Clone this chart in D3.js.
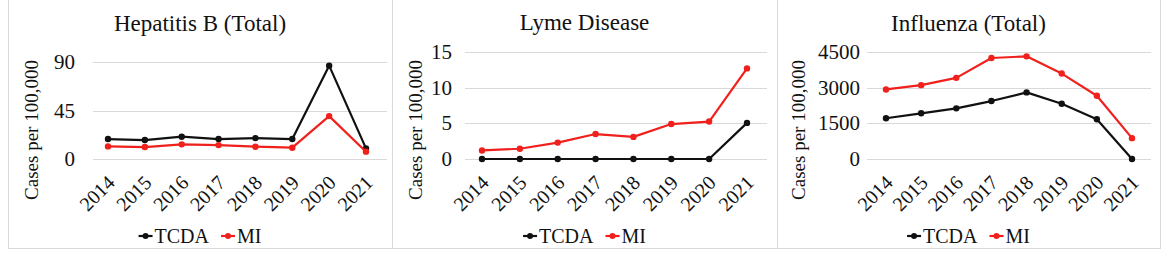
<!DOCTYPE html>
<html><head><meta charset="utf-8">
<script src="https://cdn.jsdelivr.net/npm/d3@7/dist/d3.min.js"></script>
<style>
@font-face { font-family: "ChartSerif"; src: local("Liberation Serif"), local("LiberationSerif"), local("Liberation Serif Regular"), local("LiberationSerif-Regular"); }
</style>
</head>
<body style="margin:0">
<svg id="c" width="1170" height="258"></svg>
<script>
const years = ["2014","2015","2016","2017","2018","2019","2020","2021"];
const seriesNames = ["TCDA","MI"];
const titles = ["Hepatitis B (Total)","Lyme Disease","Influenza (Total)"];
const yTicks1 = [0,45,90];
const yTicks2 = [0,5,10,15];
const yTicks3 = [0,1500,3000,4500];
const hepTCDA = [18.5,17.6,20.7,18.5,19.4,18.5,86.6,9.9];
const hepMI   = [11.7,11.1,13.6,12.9,11.4,10.5,39.8,6.8];
const lymeTCDA = [0,0,0,0,0,0,0,5.06];
const lymeMI   = [1.2,1.44,2.3,3.5,3.1,4.9,5.25,12.7];
const fluTCDA = [1713,1922,2131,2437,2800,2326,1671,0];
const fluMI   = [2925,3106,3412,4248,4318,3593,2660,877];

const FONT = '"Liberation Serif"';
const colors = {TCDA:"#111111", MI:"#f0201c"};
const em = {T:0.611,C:0.667,D:0.722,A:0.722,M:0.889,I:0.333};
const textW = (s,size) => s.split("").reduce((a,c)=>a+(em[c]||0.5),0)*size;

const panels = [
  {title:titles[0], ticks:yTicks1, data:[hepTCDA,hepMI], box:[8,392], grid:[93,387], pts:[108,366], yTop:62, titleY:31, yLabelX:31, tickX:75},
  {title:titles[1], ticks:yTicks2, data:[lymeTCDA,lymeMI], box:[392,777], grid:[465,767], pts:[482,747], yTop:52, titleY:30, yLabelX:415, tickX:452},
  {title:titles[2], ticks:yTicks3, data:[fluTCDA,fluMI], box:[777,1160], grid:[867,1151], pts:[886,1132], yTop:52, titleY:31, yLabelX:798, tickX:860}
];

const svg = d3.select("#c");
const yBase = 159;

function txt(sel, size){ return sel.style("font-family",FONT).attr("font-size",size).attr("fill","#111"); }

panels.forEach(p => {
  svg.append("rect").attr("x",p.box[0]+0.5).attr("y",-1).attr("width",p.box[1]-p.box[0]).attr("height",249.5)
    .attr("fill","none").attr("stroke","#d9d9d9").attr("stroke-width",1);
  const x = d3.scalePoint().domain(years).range(p.pts);
  const y = d3.scaleLinear().domain([0, d3.max(p.ticks)]).range([yBase, p.yTop]);
  const cx = (p.box[0]+p.box[1])/2;

  txt(svg.append("text").attr("x",cx).attr("y",p.titleY).attr("text-anchor","middle"),23).text(p.title);

  svg.selectAll(null).data(p.ticks).join("line")
    .attr("x1",p.grid[0]).attr("x2",p.grid[1])
    .attr("y1",d=>Math.round(y(d))+0.5).attr("y2",d=>Math.round(y(d))+0.5)
    .attr("stroke","#d9d9d9").attr("stroke-width",1);

  // y tick labels from the scale
  p.ticks.forEach(t => {
    txt(svg.append("text").attr("x",p.tickX).attr("y",y(t)).attr("dy","0.34em").attr("text-anchor","end"),21)
      .text(d3.format("d")(t));
  });

  txt(svg.append("text").attr("transform",`translate(${p.yLabelX},${130}) rotate(-90)`)
    .attr("text-anchor","middle").attr("dy","0.35em"),19)
    .text("Cases per 100,000");

  // x labels from the point scale
  years.forEach(yr => {
    txt(svg.append("text").attr("text-anchor","end")
      .attr("transform",`translate(${x(yr)+8},${184}) rotate(-45)`),20).text(yr);
  });

  p.data.forEach((vals,i) => {
    const name = seriesNames[i];
    const line = d3.line().x((d,j)=>x(years[j])).y(d=>y(d));
    svg.append("path").datum(vals).attr("d",line).attr("fill","none")
      .attr("stroke",colors[name]).attr("stroke-width",2.2).attr("stroke-linejoin","round");
    svg.selectAll(null).data(vals).join("circle")
      .attr("cx",(d,j)=>x(years[j])).attr("cy",d=>y(d)).attr("r",3.2).attr("fill",colors[name]);
  });

  const widths = seriesNames.map(n => 16 + textW(n,20));
  const total = d3.sum(widths) + 12*(seriesNames.length-1);
  let off = cx - total/2;
  seriesNames.forEach((n,i) => {
    svg.append("line").attr("x1",off).attr("x2",off+14).attr("y1",236).attr("y2",236).attr("stroke",colors[n]).attr("stroke-width",2.2);
    svg.append("circle").attr("cx",off+7).attr("cy",236).attr("r",3).attr("fill",colors[n]);
    txt(svg.append("text").attr("x",off+16).attr("y",243),20).text(n);
    off += widths[i] + 12;
  });
});
</script></body></html>
